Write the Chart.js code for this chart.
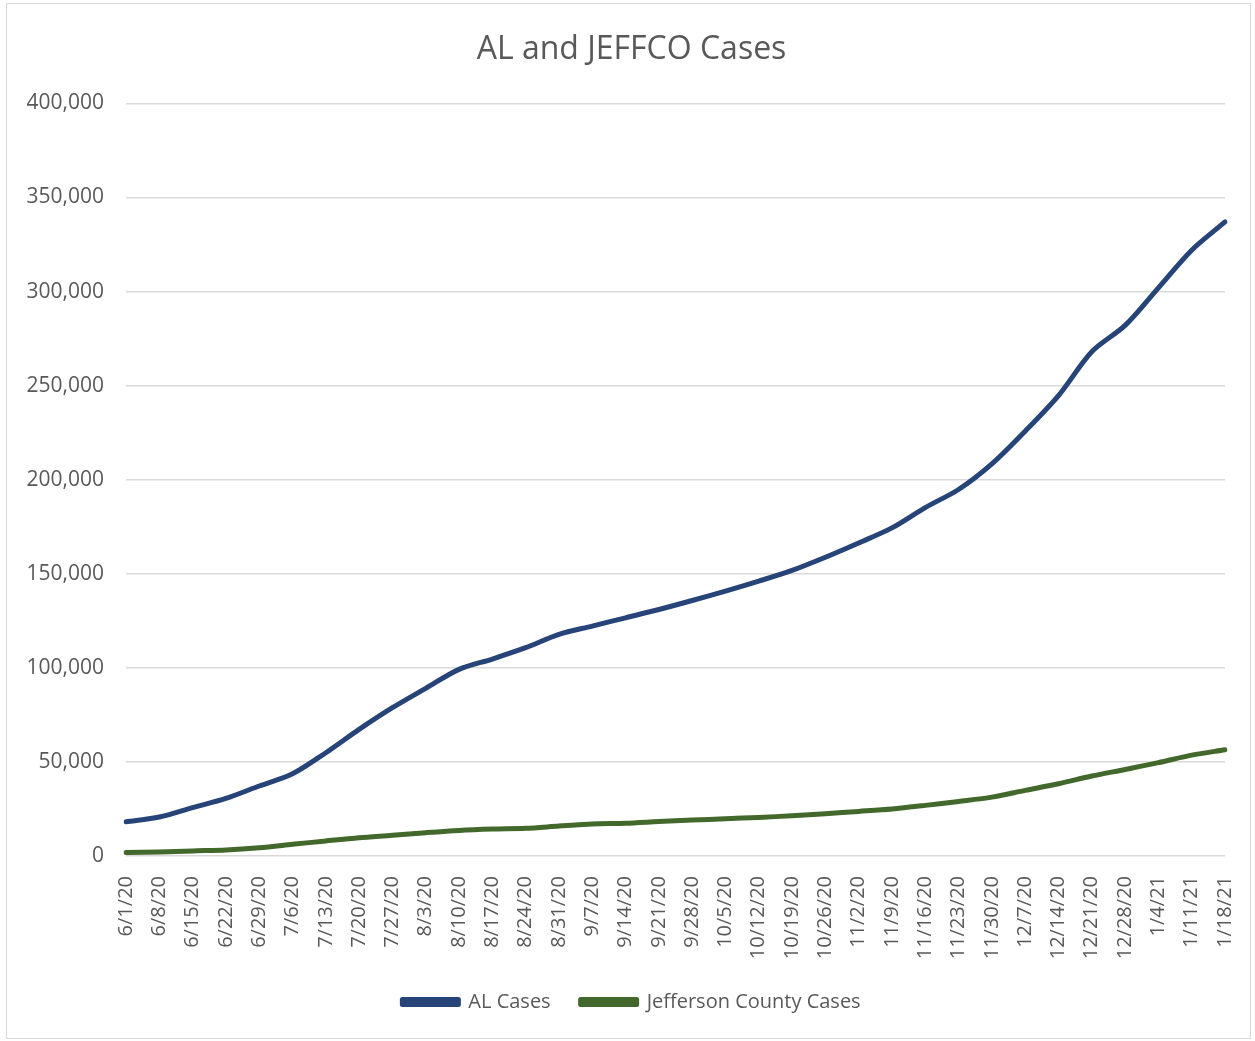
<!DOCTYPE html>
<html lang="en">
  <head>
    <meta charset="UTF-8" />
    <title>AL and JEFFCO Cases</title>
    <script src="https://cdn.jsdelivr.net/npm/chart.js@4.4.0/dist/chart.umd.min.js"></script>
    <style>
      body { margin: 0; background: #fff; }
      #wrap { position: relative; width: 1255px; height: 1041px; }
      #frame {
        position: absolute; left: 6px; top: 3px; width: 1243px; height: 1034px;
        border: 1px solid #d9d9d9; pointer-events: none;
      }
    </style>
  </head>
  <body>
    <div id="wrap">
      <canvas id="casesChart" width="1255" height="1041"></canvas>
      <div id="frame"></div>
    </div>
    <script>
      // weekly readings, 6/1/20 .. 1/18/21
      const weeks = ['6/1/20','6/8/20','6/15/20','6/22/20','6/29/20','7/6/20','7/13/20','7/20/20',
        '7/27/20','8/3/20','8/10/20','8/17/20','8/24/20','8/31/20','9/7/20','9/14/20','9/21/20',
        '9/28/20','10/5/20','10/12/20','10/19/20','10/26/20','11/2/20','11/9/20','11/16/20',
        '11/23/20','11/30/20','12/7/20','12/14/20','12/21/20','12/28/20','1/4/21','1/11/21','1/18/21'];

      const alCases = [18200, 20700, 25700, 30600, 37200, 43700, 54900, 67300, 78800, 89100,
        99200, 104700, 110700, 117800, 122200, 126600, 131000, 135800, 140800, 146100,
        151800, 158800, 166400, 174400, 185200, 194800, 208400, 225800, 244700, 268000,
        282000, 302000, 322000, 337000];

      const jeffCases = [1800, 2100, 2700, 3200, 4400, 6200, 8000, 9700, 11000, 12400,
        13600, 14300, 14700, 15900, 17000, 17400, 18300, 19100, 19800, 20500,
        21400, 22500, 23700, 25000, 26900, 29000, 31300, 34900, 38400, 42500,
        46000, 49600, 53600, 56500];

      const yTicks = [0, 50000, 100000, 150000, 200000, 250000, 300000, 350000, 400000];

      const textGrey = '#595959';
      const font = 'Open Sans';

      new Chart(document.getElementById('casesChart'), {
        type: 'line',
        data: {
          labels: weeks,
          datasets: [
            {
              label: 'AL Cases',
              data: alCases,
              borderColor: '#264478',
              backgroundColor: '#264478',
              borderWidth: 5,
              pointRadius: 0,
              tension: 0.3,
              borderCapStyle: 'round',
              borderJoinStyle: 'round'
            },
            {
              label: 'Jefferson County Cases',
              data: jeffCases,
              borderColor: '#43682b',
              backgroundColor: '#43682b',
              borderWidth: 5,
              pointRadius: 0,
              tension: 0.3,
              borderCapStyle: 'round',
              borderJoinStyle: 'round'
            }
          ]
        },
        options: {
          responsive: false,
          animation: false,
          layout: { padding: { top: 10, right: 14, bottom: 19, left: 22 } },
          plugins: {
            title: {
              display: true,
              text: 'AL and JEFFCO Cases',
              color: textGrey,
              font: { family: font, size: 32, weight: 'normal' },
              padding: { top: 21, bottom: 34 }
            },
            legend: {
              position: 'bottom',
              labels: {
                color: textGrey,
                font: { family: font, size: 20 },
                boxWidth: 56,
                boxHeight: 5,
                padding: 30
              }
            },
            tooltip: { enabled: false }
          },
          scales: {
            x: {
              grid: { display: false },
              border: { display: false },
              ticks: {
                color: textGrey,
                font: { family: font, size: 20 },
                minRotation: 90,
                maxRotation: 90,
                autoSkip: false,
                padding: 12
              },
              afterFit: function (scale) {
                scale.height = 106;
                scale.paddingRight = 30;
              }
            },
            y: {
              min: 0,
              max: 400000,
              afterBuildTicks: function (scale) {
                scale.ticks = yTicks.map(function (v) { return { value: v }; });
              },
              grid: { color: '#d9d9d9', lineWidth: 1.5, drawTicks: false },
              border: { display: false },
              ticks: {
                color: textGrey,
                font: { family: font, size: 21 },
                padding: 22,
                callback: function (v) { return v.toLocaleString('en-US'); }
              },
              afterFit: function (scale) { scale.width = 104; }
            }
          }
        }
      });
    </script>
  </body>
</html>
